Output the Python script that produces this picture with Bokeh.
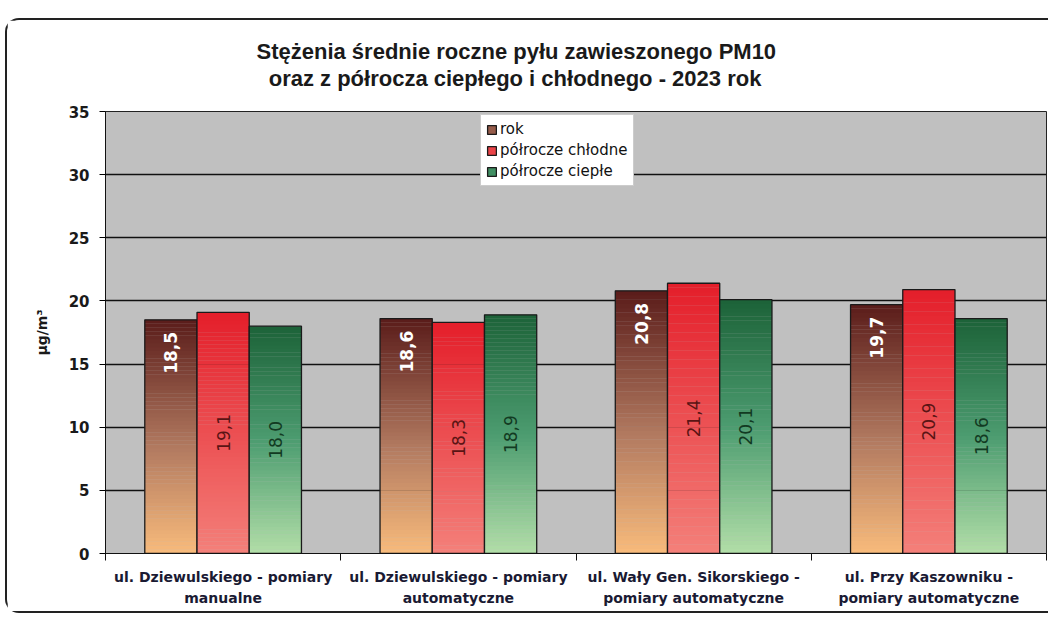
import numpy as np
from bokeh.plotting import figure
from bokeh.models import (Range1d, FixedTicker, ColumnDataSource, Legend, LegendItem,
                          Title, LinearAxis)
from bokeh.embed import file_html
from bokeh.resources import INLINE
from bokeh.core.properties import value

# ---------------- data ----------------
categories = [
    "ul. Dziewulskiego - pomiary\nmanualne",
    "ul. Dziewulskiego - pomiary\nautomatyczne",
    "ul. Wały Gen. Sikorskiego -\npomiary automatyczne",
    "ul. Przy Kaszowniku -\npomiary automatyczne",
]
series_names = ["rok", "półrocze chłodne", "półrocze ciepłe"]
rok = [18.5, 18.6, 20.8, 19.7]
chlodne = [19.1, 18.3, 21.4, 20.9]
cieple = [18.0, 18.9, 20.1, 18.6]
y_ticks = [0, 5, 10, 15, 20, 25, 30, 35]
title_line1 = "Stężenia średnie roczne pyłu zawieszonego PM10"
title_line2 = "oraz z półrocza ciepłego i chłodnego - 2023 rok"
y_label = "µg/m³"

# ---------------- styles ----------------
gradients = [
    [(0.0, "#f8bb7c"), (0.45, "#b27a60"), (1.0, "#5a1c1a")],
    [(0.0, "#f4807a"), (1.0, "#e41e2a")],
    [(0.0, "#b2dea8"), (0.5, "#4c9c70"), (1.0, "#1c6238")],
]
label_colors = ["white", "#5a1414", "#123a22"]
bar_w = 0.222
N = 60


def hex2rgb(h):
    h = h.lstrip("#")
    return np.array([int(h[i:i + 2], 16) for i in (0, 2, 4)], dtype=float)


def grad_color(stops, t):
    for (t0, c0), (t1, c1) in zip(stops[:-1], stops[1:]):
        if t <= t1:
            f = (t - t0) / (t1 - t0) if t1 > t0 else 0
            c = hex2rgb(c0) * (1 - f) + hex2rgb(c1) * f
            return "#%02x%02x%02x" % tuple(int(round(v)) for v in c)
    return stops[-1][1]


p = figure(width=1043, height=595, output_backend="svg", toolbar_location=None,
           x_range=Range1d(0, 4), y_range=Range1d(0, 35),
           min_border_left=98, min_border_right=4, min_border_top=90, min_border_bottom=62)
p.styles = {
    "margin-top": "18px", "margin-left": "5px",
    "border-left": "2px solid #222", "border-top": "2px solid #222",
    "border-bottom": "2px solid #222",
    "border-top-left-radius": "14px", "border-bottom-left-radius": "14px",
}
p.background_fill_color = "#c0c0c0"
p.border_fill_color = "white"
p.outline_line_color = "#222222"
p.outline_line_width = 1

p.title = Title(text=title_line1 + "\n" + "\u00a0\u00a0" + title_line2,
                align="left", offset=151, standoff=36, vertical_align="top",
                text_line_height=1.1,
                text_font="Liberation Sans", text_font_size="22px",
                text_font_style="bold", text_color="#1a1a1a")

p.xgrid.visible = False
p.ygrid.grid_line_color = "#111111"
p.ygrid.grid_line_width = 1.3
p.ygrid.ticker = FixedTicker(ticks=y_ticks)

# y axis
p.yaxis.ticker = FixedTicker(ticks=y_ticks)
p.yaxis.major_label_text_font = "DejaVu Sans"
p.yaxis.major_label_text_font_style = "bold"
p.yaxis.major_label_text_font_size = "15px"
p.yaxis.major_label_text_color = "#1a1a1a"
p.yaxis.major_tick_out = 6
p.yaxis.major_tick_in = 0
p.yaxis.minor_tick_line_color = None
p.yaxis.axis_line_color = "#111111"
p.yaxis.major_label_standoff = 10
p.yaxis.axis_label = y_label
p.yaxis.axis_label_text_font = "DejaVu Sans"
p.yaxis.axis_label_text_font_style = "bold"
p.yaxis.axis_label_text_font_size = "14px"
p.yaxis.axis_label_text_color = "#1a1a1a"
p.yaxis.axis_label_standoff = 16

# x axis: two label rows
centers = [i + 0.5 for i in range(len(categories))]
line1 = [c.split("\n")[0] for c in categories]
line2 = [c.split("\n")[1] for c in categories]
xa = p.xaxis[0]
xa.ticker = FixedTicker(ticks=centers, minor_ticks=list(range(len(categories) + 1)))
xa.major_label_overrides = {c: lab for c, lab in zip(centers, line1)}
xa.major_tick_line_color = None
xa.major_tick_out = 7
xa.major_tick_in = 0
xa.minor_tick_out = 7
xa.minor_tick_in = 0
xa.minor_tick_line_color = "#111111"
xa.axis_line_color = "#111111"
xa.major_label_standoff = 8

xb = LinearAxis(ticker=FixedTicker(ticks=centers, minor_ticks=[]),
                major_label_overrides={c: lab for c, lab in zip(centers, line2)},
                axis_line_color=None, major_tick_line_color=None, minor_tick_line_color=None,
                major_tick_out=0, major_tick_in=0, major_label_standoff=2)
p.add_layout(xb, "below")
for ax in (xa, xb):
    ax.major_label_text_font = "DejaVu Sans"
    ax.major_label_text_font_style = "bold"
    ax.major_label_text_font_size = "14px"
    ax.major_label_text_color = "#1a1a33"

legend_items = []
all_series = [rok, chlodne, cieple]
roll = int(0.62 * N)
for s, vals in enumerate(all_series):
    offs = (s - 1) * bar_w
    L, R, B, T, C = [], [], [], [], []
    order = list(range(roll, N)) + list(range(0, roll))
    for j in order:
        for i, v in enumerate(vals):
            x0 = i + 0.5 + offs - bar_w / 2
            L.append(x0)
            R.append(x0 + bar_w)
            B.append(v * j / N)
            T.append(v * (j + 1) / N + (0.02 if j < N - 1 else 0))
            C.append(grad_color(gradients[s], (j + 0.5) / N))
    src = ColumnDataSource(dict(left=L, right=R, bottom=B, top=T, color=C))
    r_fill = p.quad(left="left", right="right", bottom="bottom", top="top", source=src,
                    fill_color="color", line_color=None)
    osrc = ColumnDataSource(dict(left=[i + 0.5 + offs - bar_w / 2 for i in range(len(vals))],
                                 right=[i + 0.5 + offs + bar_w / 2 for i in range(len(vals))],
                                 top=vals, bottom=[0] * len(vals)))
    r_out = p.quad(left="left", right="right", bottom="bottom", top="top", source=osrc,
                   fill_color=None, line_color="#1a1a1a", line_width=1.3)
    legend_items.append(LegendItem(label=series_names[s], renderers=[r_fill, r_out], index=0))

    xs = [i + 0.5 + offs for i in range(len(vals))]
    txt = [("%.1f" % v).replace(".", ",") for v in vals]
    if s == 0:
        lsrc = ColumnDataSource(dict(x=xs, y=vals, t=txt))
        p.text(x="x", y="y", text="t", source=lsrc, angle=np.pi / 2, text_align="right",
               text_baseline="middle", y_offset=12, text_color=label_colors[s],
               text_font=value("DejaVu Sans"), text_font_style="bold", text_font_size="17px")
    else:
        lsrc = ColumnDataSource(dict(x=xs, y=[v / 2 for v in vals], t=txt))
        p.text(x="x", y="y", text="t", source=lsrc, angle=np.pi / 2, text_align="center",
               text_baseline="middle", text_color=label_colors[s],
               text_font=value("DejaVu Sans"), text_font_style="normal", text_font_size="17px")

legend = Legend(items=legend_items, location=(375, 367))
legend.label_text_font = "DejaVu Sans"
legend.label_text_font_size = "15px"
legend.label_text_color = "#111111"
legend.glyph_width = 11
legend.glyph_height = 11
legend.label_height = 18
legend.label_standoff = 3
legend.spacing = 3
legend.padding = 5
legend.margin = 0
legend.background_fill_color = "white"
legend.background_fill_alpha = 1
legend.border_line_color = "#999999"
p.add_layout(legend)

open("out.html", "w").write(file_html(p, INLINE))
